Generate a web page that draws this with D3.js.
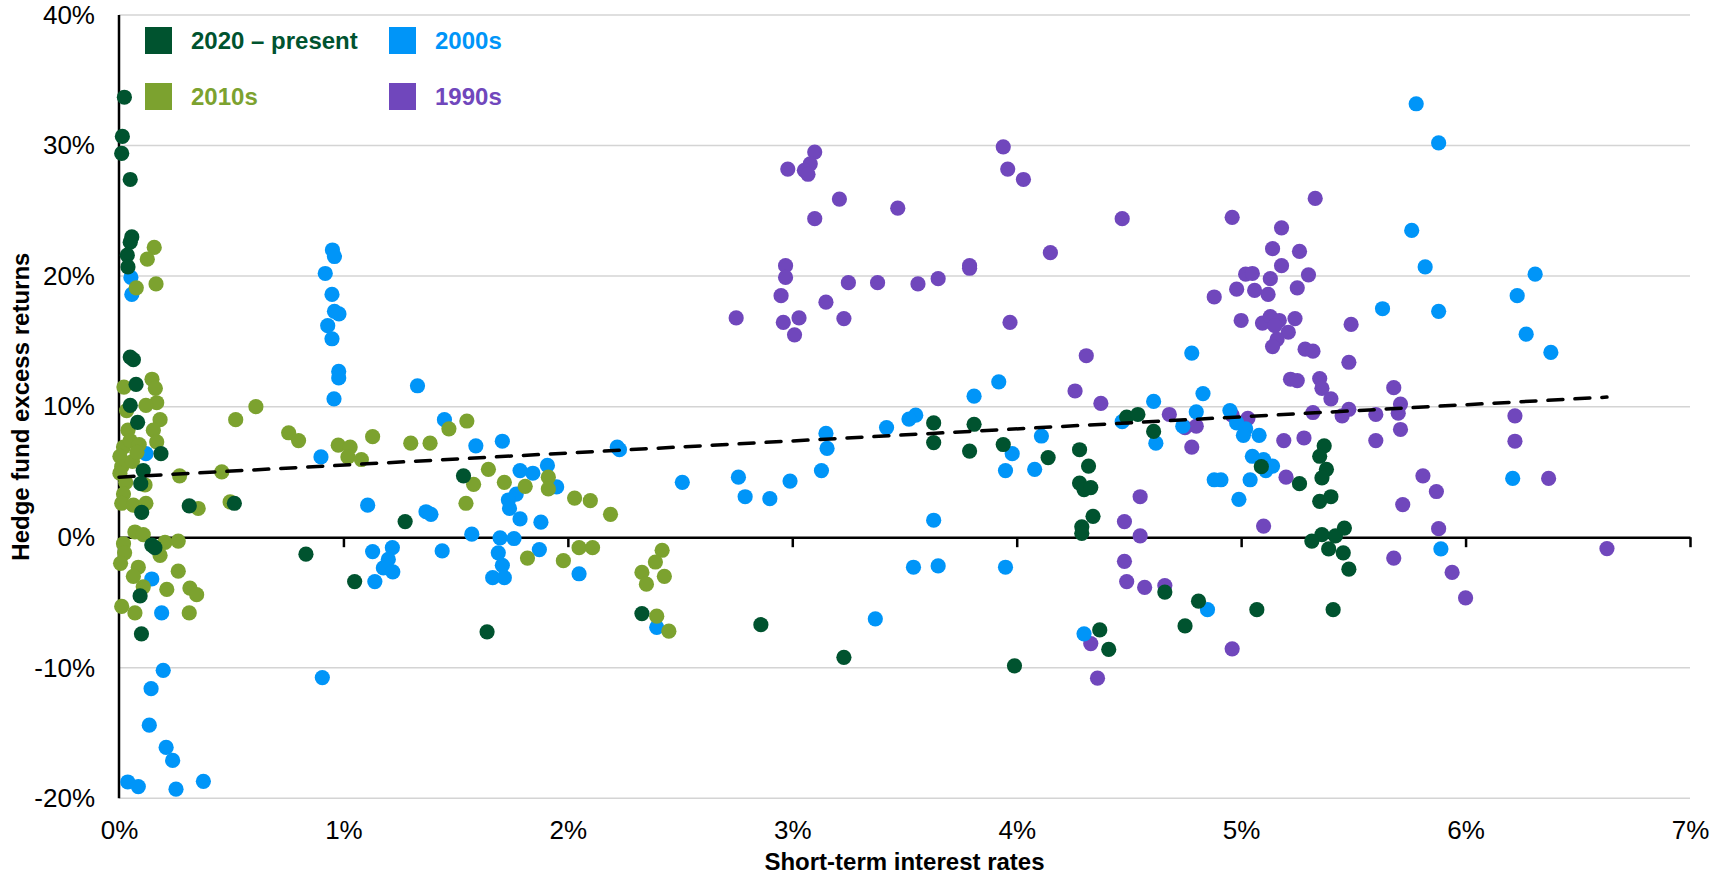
<!DOCTYPE html>
<html><head><meta charset="utf-8">
<script src="https://cdn.jsdelivr.net/npm/d3@7"></script>
<style>html,body{margin:0;padding:0;background:#fff;} svg{display:block;font-family:"Liberation Sans",Arial,Helvetica,sans-serif;}</style>
</head><body><svg id="chart" width="1723" height="876"></svg>
<script>
// ---------- DATA ----------
const seriesNames = ["2020 \u2013 present", "2010s", "2000s", "1990s"];
const seriesColors = ["#00532F", "#7CA22F", "#0095F8", "#7047BC"];

const x2020 = [0.024,0.015,0.012,0.05,0.057,0.05,0.037,0.04,0.05,0.064,0.076,0.05,0.083,0.187,0.108,0.097,0.101,0.313,0.514,0.146,0.16,0.094,0.1,1.535,1.275,0.833,1.05,1.64,2.33,2.86,3.23,3.63,3.81,3.63,3.79,3.94,4.14,4.28,4.32,4.28,4.30,4.33,4.34,4.29,4.29,3.99,4.37,4.41,4.49,4.54,4.61,5.37,5.35,5.09,5.38,5.36,5.26,5.35,5.40,5.46,5.42,5.36,5.315,5.39,5.455,5.48,4.66,4.81,4.75,5.07,5.41];
const y2020 = [33.7,30.7,29.4,27.4,23.0,22.6,21.6,20.7,13.8,13.6,11.7,10.1,8.8,6.4,5.1,4.1,1.9,2.4,2.6,-0.6,-0.8,-4.5,-7.4,4.7,1.2,-1.3,-3.4,-7.25,-5.85,-6.7,-9.2,8.75,8.65,7.25,6.6,7.1,6.1,6.7,5.45,4.15,3.65,3.8,1.6,0.8,0.3,-9.85,-7.1,-8.6,9.2,9.4,8.1,7.0,6.2,5.4,5.2,4.55,4.1,2.75,3.1,0.7,0.1,0.2,-0.3,-0.9,-1.2,-2.45,-4.2,-4.9,-6.8,-5.55,-5.55];

const x2010 = [0.157,0.126,0.077,0.165,0.022,0.147,0.162,0.168,0.183,0.12,0.034,0.153,0.04,0.168,0.02,0.05,0.09,0.004,0.012,0.004,0.03,0.02,0.012,0.064,0.12,0.116,0.06,0.08,0.27,0.458,0.353,0.495,0.52,0.61,0.756,0.8,0.071,0.108,0.205,0.264,0.02,0.025,0.007,0.183,0.086,0.064,0.264,0.213,0.316,0.346,0.108,0.012,0.071,0.313,0.977,1.03,1.02,1.08,1.13,1.30,1.386,1.47,1.55,1.646,1.58,1.546,1.717,1.81,1.913,1.913,2.03,2.10,2.19,1.82,1.98,2.05,2.11,2.33,2.35,2.42,2.39,2.43,2.396,2.45];
const y2010 = [22.2,21.3,19.1,19.4,11.5,12.1,11.4,10.3,9.0,10.1,9.7,8.2,8.2,7.3,6.9,7.4,7.1,6.2,5.4,4.9,4.2,3.3,2.6,2.45,2.6,4.0,5.8,6.5,4.7,5.0,2.2,2.7,9.0,10.0,8.0,7.4,0.4,0.2,-0.4,-0.3,-0.5,-1.2,-2.0,-1.4,-2.3,-3.0,-2.6,-4.0,-3.9,-4.4,-3.8,-5.3,-5.8,-5.8,7.05,6.9,6.15,5.95,7.7,7.2,7.2,8.3,8.9,5.2,4.05,2.6,4.2,3.9,4.6,3.7,3.0,2.8,1.75,-1.6,-1.8,-0.8,-0.8,-2.7,-3.6,-1.0,-1.9,-3.0,-6.05,-7.2];

const x2000 = [0.053,0.057,0.12,0.146,0.19,0.197,0.143,0.135,0.21,0.239,0.039,0.086,0.254,0.376,0.951,0.96,0.919,0.949,0.96,0.98,0.93,0.949,0.979,0.979,0.958,1.33,1.45,0.9,1.59,1.708,2.22,2.23,1.787,1.844,1.909,1.95,1.77,1.735,1.74,1.787,1.88,2.51,1.108,1.368,1.39,1.572,1.698,1.76,1.873,1.69,1.708,1.665,1.717,1.44,1.13,1.218,1.2,1.178,1.22,1.14,2.05,2.396,0.906,3.92,3.81,3.55,3.52,3.42,3.15,4.11,3.155,3.13,2.76,2.79,2.90,2.99,3.98,3.95,4.08,3.63,3.54,3.65,3.95,3.37,4.30,5.78,5.88,5.76,5.82,5.63,5.88,4.78,4.83,4.61,4.80,4.47,4.74,4.95,4.98,5.02,5.01,5.08,4.62,5.05,5.10,5.14,5.11,4.88,4.91,5.04,4.99,4.85,5.89,6.31,6.23,6.27,6.38,6.21];
const y2000 = [19.9,18.6,6.4,-3.2,-5.8,-10.2,-11.6,-14.4,-16.1,-17.1,-18.75,-19.1,-19.3,-18.7,22.0,21.5,20.2,18.6,17.3,17.1,16.2,15.2,12.7,12.2,10.6,11.6,9.0,6.15,7.0,7.35,6.9,6.7,5.1,4.9,5.5,3.85,3.3,2.85,2.2,1.4,1.15,4.2,2.45,1.95,1.75,0.23,-0.05,-0.1,-0.95,-1.2,-2.15,-3.1,-3.1,-1.05,-1.1,-0.8,-1.7,-2.35,-2.65,-3.4,-2.8,-6.9,-10.75,11.9,10.8,9.35,9.05,8.4,7.95,7.75,6.8,5.1,4.6,3.1,2.95,4.3,6.4,5.1,5.2,1.3,-2.3,-2.2,-2.3,-6.25,-7.4,33.2,30.2,23.5,20.7,17.5,17.3,14.1,11.0,10.4,9.6,8.85,8.5,9.7,8.75,8.3,7.8,7.8,7.2,6.2,5.95,5.45,5.1,4.4,4.4,4.4,2.9,-5.55,-0.9,20.15,18.5,15.55,14.15,4.5];

const x1990 = [3.10,3.08,3.054,3.07,2.98,3.21,3.10,3.47,3.94,3.96,4.03,4.15,2.97,2.97,2.95,2.75,2.96,3.03,3.01,3.15,3.25,3.23,3.38,3.56,3.65,3.79,3.79,3.97,4.31,4.26,4.375,4.33,4.36,4.47,4.96,5.33,5.18,5.14,5.26,5.18,5.02,5.05,5.13,5.30,4.98,5.06,5.12,5.25,4.88,5.0,5.095,5.13,5.17,5.24,5.21,5.16,5.14,5.15,5.49,5.285,5.32,5.48,5.22,5.25,5.35,5.36,5.40,5.68,5.71,5.70,5.71,5.60,5.48,5.45,5.32,4.68,4.75,4.80,5.03,4.96,5.19,5.28,5.60,4.78,5.20,4.55,4.48,4.55,5.10,5.81,5.87,5.72,5.88,5.68,5.94,6.0,4.48,4.49,4.57,4.66,4.96,6.22,6.22,6.37,6.63];
const y1990 = [29.5,28.6,28.1,27.8,28.2,25.9,24.4,25.2,29.9,28.2,27.4,21.8,20.8,19.9,18.5,16.8,16.45,16.8,15.5,18.0,19.5,16.75,19.5,19.4,19.8,20.8,20.6,16.45,13.9,11.2,10.25,-8.15,-10.8,24.4,24.5,25.95,23.7,22.1,21.9,20.8,20.15,20.2,19.8,20.1,19.0,18.9,18.6,19.1,18.4,16.6,16.4,16.9,16.6,16.75,15.7,15.15,14.6,16.2,16.3,14.4,14.25,13.4,12.1,12.0,12.15,11.4,10.6,11.45,10.2,9.5,8.25,9.4,9.8,9.3,9.55,9.4,8.4,8.5,9.1,9.35,7.4,7.6,7.4,6.9,4.6,3.1,1.2,0.1,0.85,4.7,3.5,2.5,0.65,-1.6,-2.7,-4.65,-1.85,-3.4,-3.85,-3.7,-8.55,9.3,7.35,4.5,-0.87];

const trendX = [0, 6.63];
const trendY = [4.6, 10.73];

const xTicks = [0,1,2,3,4,5,6,7];
const yTicks = [-20,-10,0,10,20,30,40];
const xTitle = "Short-term interest rates";
const yTitle = "Hedge fund excess returns";

// ---------- CHART ----------
const svg = d3.select("#chart");
const x = d3.scaleLinear().domain([0,7]).range([119,1690]);
const y = d3.scaleLinear().domain([-20,40]).range([798.3,15]);
const pct = d => d + "%";

// gridlines
svg.append("g").selectAll("line").data(yTicks.filter(d => d !== 0)).join("line")
  .attr("x1", x(0)).attr("x2", x(7)).attr("y1", d => y(d)).attr("y2", d => y(d))
  .attr("stroke", "#d4d4d4").attr("stroke-width", 1.5);

// y tick labels
const yAxis = svg.append("g").attr("transform", `translate(${x(0)},0)`)
  .call(d3.axisLeft(y).tickValues(yTicks).tickFormat(pct).tickSize(0).tickPadding(24));
yAxis.select(".domain").remove();
yAxis.selectAll("text").attr("font-size", 26).attr("fill", "#000").attr("font-family", "Liberation Sans, Arial, sans-serif");

// x tick labels (bottom)
const xLab = svg.append("g").attr("transform", `translate(0,${y(-20)})`)
  .call(d3.axisBottom(x).tickValues(xTicks).tickFormat(pct).tickSize(0).tickPadding(22.5));
xLab.select(".domain").remove();
xLab.selectAll("text").attr("font-size", 26).attr("fill", "#000").attr("font-family", "Liberation Sans, Arial, sans-serif");

// zero axis with ticks
const zAxis = svg.append("g").attr("transform", `translate(0,${y(0)})`)
  .call(d3.axisBottom(x).tickValues(xTicks.filter(d => d > 0)).tickFormat("").tickSize(10).tickSizeOuter(0));
zAxis.select(".domain").attr("stroke", "#000").attr("stroke-width", 2.5);
zAxis.selectAll(".tick line").attr("stroke", "#000").attr("stroke-width", 2.5);

// y axis line
svg.append("line").attr("x1", x(0)).attr("x2", x(0)).attr("y1", y(40)).attr("y2", y(-20))
  .attr("stroke", "#000").attr("stroke-width", 2.5);

// points (1990s bottom -> 2020s top)
const series = [
  {xs: x1990, ys: y1990, c: seriesColors[3]},
  {xs: x2000, ys: y2000, c: seriesColors[2]},
  {xs: x2010, ys: y2010, c: seriesColors[1]},
  {xs: x2020, ys: y2020, c: seriesColors[0]}
];
series.forEach(s => {
  svg.append("g").selectAll("circle").data(s.xs.map((v,i) => [v, s.ys[i]])).join("circle")
    .attr("cx", d => x(d[0])).attr("cy", d => y(d[1])).attr("r", 7.6).attr("fill", s.c);
});

// trend line
svg.append("path").datum(trendX.map((v,i) => [v, trendY[i]]))
  .attr("d", d3.line().x(d => x(d[0])).y(d => y(d[1])))
  .attr("fill", "none").attr("stroke", "#000").attr("stroke-width", 3.5)
  .attr("stroke-dasharray", "15,12").attr("stroke-linecap", "round");

// axis titles
svg.append("text").attr("x", (x(0)+x(7))/2).attr("y", 870).attr("text-anchor", "middle")
  .attr("font-size", 24).attr("font-weight", "bold").attr("fill", "#000").text(xTitle);
svg.append("text").attr("transform", `translate(29,${(y(40)+y(-20))/2}) rotate(-90)`).attr("text-anchor", "middle")
  .attr("font-size", 24).attr("font-weight", "bold").attr("fill", "#000").text(yTitle);

// legend
const legendPos = [[145,27],[145,83],[389,27],[389,83]];
seriesNames.forEach((n,i) => {
  const [lx, ly] = legendPos[i];
  svg.append("rect").attr("x", lx).attr("y", ly).attr("width", 27).attr("height", 27).attr("fill", seriesColors[i]);
  svg.append("text").attr("x", lx + 46).attr("y", ly + 22).attr("font-size", 24).attr("font-weight", "bold")
    .attr("fill", seriesColors[i]).text(n);
});
</script>
</body></html>
